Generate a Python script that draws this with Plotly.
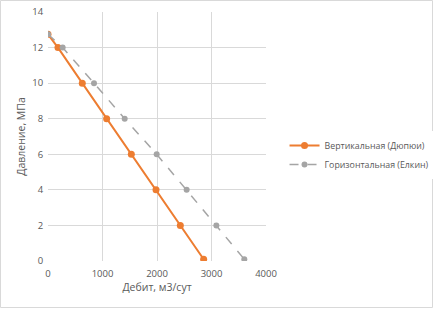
"""Pressure vs flow rate: vertical (Dupuit) vs horizontal (Elkin) well."""

import plotly.graph_objects as go

# Vertical well (Dupuit)
vert_q = [0, 183, 629, 1076, 1529, 1982, 2428, 2856]
vert_p = [12.75, 12, 10, 8, 6, 4, 2, 0.1]

# Horizontal well (Elkin)
horiz_q = [0, 269, 844, 1407, 1994, 2544, 3089, 3602]
horiz_p = [12.75, 12, 10, 8, 6, 4, 2, 0.1]

x_ticks = [0, 1000, 2000, 3000, 4000]
y_ticks = [0, 2, 4, 6, 8, 10, 12, 14]

_ORANGE = "#ed7d31"
_GRAY = "#a5a5a5"
_INK = "#595959"
_GRID = "#d9d9d9"

fig = go.Figure()
fig.add_trace(go.Scatter(
    x=vert_q, y=vert_p, mode="lines+markers", name="Вертикальная (Дюпюи)",
    line={"color": _ORANGE, "width": 2},
    marker={"color": _ORANGE, "size": 7},
))
fig.add_trace(go.Scatter(
    x=horiz_q, y=horiz_p, mode="lines+markers", name="Горизонтальная (Елкин)",
    line={"color": _GRAY, "width": 1.5, "dash": "dash"},
    marker={"color": _GRAY, "size": 6},
))

# plot area: 48..266 px wide, 12..261 px tall
pw, ph = 218, 249
fig.add_shape(
    type="rect", xref="paper", yref="paper",
    x0=-47.5 / pw, x1=(432.5 - 48) / pw,
    y0=-(307.5 - 261) / ph, y1=(261 - 0.5) / ph,
    line={"color": _GRID, "width": 1}, fillcolor="rgba(0,0,0,0)", layer="below",
)

fig.update_layout(
    width=434, height=310,
    margin={"l": 48, "r": 168, "t": 12, "b": 49, "autoexpand": False},
    paper_bgcolor="white", plot_bgcolor="white",
    font={"family": "Open Sans, sans-serif", "color": _INK, "size": 10},
    legend={
        "x": 1.085, "y": 0.426, "xanchor": "left", "yanchor": "middle",
        "font": {"size": 8.8, "color": _INK}, "tracegroupgap": 0,
        "itemwidth": 30, "borderwidth": 0,
    },
    xaxis={
        "range": [0, 4000], "tickvals": x_ticks, "showgrid": True,
        "gridcolor": _GRID, "zeroline": False, "showline": False,
        "ticks": "outside", "ticklen": 4, "tickcolor": "rgba(0,0,0,0)",
        "tickfont": {"size": 9.5}, "automargin": False,
        "title": {"text": "Дебит, м3/сут", "font": {"size": 10.5}, "standoff": 4},
    },
    yaxis={
        "range": [0, 14], "tickvals": y_ticks, "showgrid": True,
        "gridcolor": _GRID, "zeroline": False, "showline": False,
        "ticks": "outside", "ticklen": 2, "tickcolor": "rgba(0,0,0,0)",
        "tickfont": {"size": 9.5}, "automargin": False,
        "title": {"text": "Давление, МПа", "font": {"size": 10.5}, "standoff": 4},
    },
)

# drop the browser's default 8px body margin so the figure sits at (0, 0)
fig.write_html(
    "out.html",
    config={"displayModeBar": False},
    post_script="document.body.style.margin = '0';",
)
